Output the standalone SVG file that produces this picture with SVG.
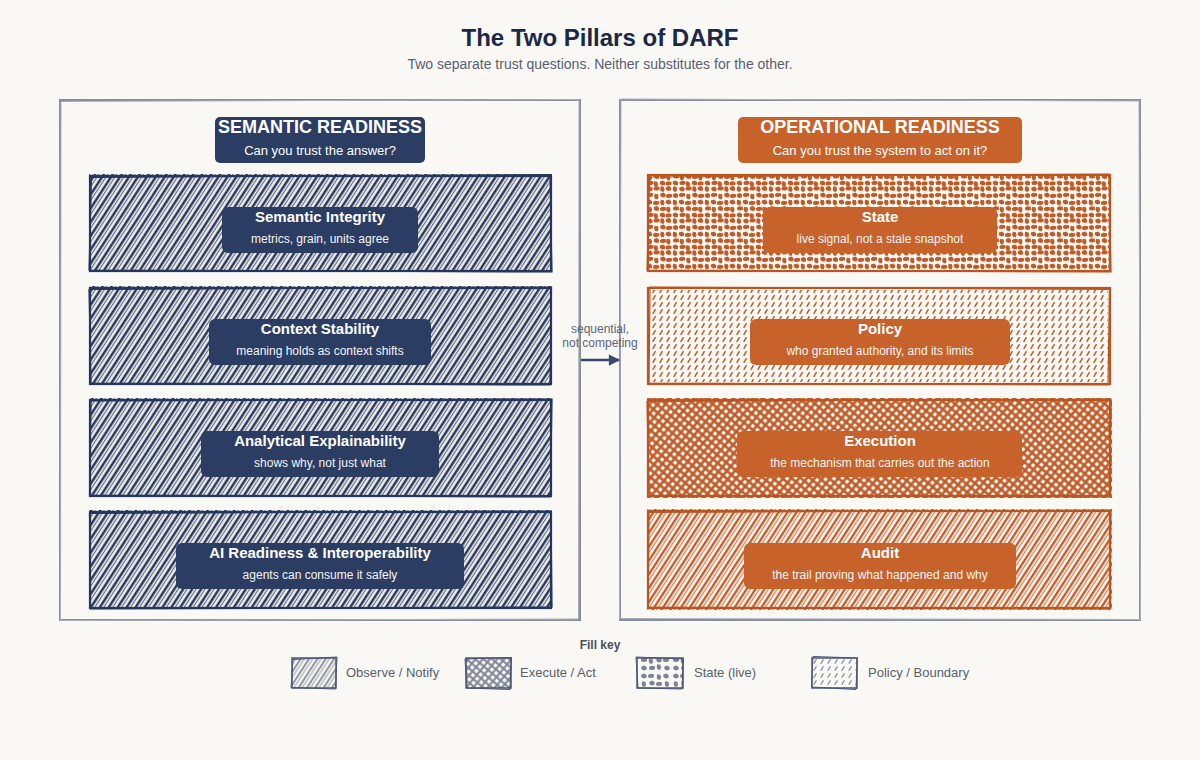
<svg xmlns="http://www.w3.org/2000/svg" width="1200" height="760" viewBox="0 0 1200 760">
<style>
.bg{fill:#f9f8f4}
.title{font:700 24px 'Liberation Sans',Arial,sans-serif;fill:#1c2848}
.subtitle{font:14px 'Liberation Sans',Arial,sans-serif;fill:#5a6070}
.panel{fill:none;stroke:#878d9b;stroke-width:2}
.panel2{fill:none;stroke:#a9aeb8;stroke-width:1}
.hdrT{font:700 18px 'Liberation Sans',Arial,sans-serif;fill:#fff}
.hdrS{font:13px 'Liberation Sans',Arial,sans-serif;fill:#fff}
.nt{font:700 15px 'Liberation Sans',Arial,sans-serif;fill:#fff}
.ns{font:12px 'Liberation Sans',Arial,sans-serif;fill:#f4f4f4}
.navy{fill:#2c3d63}
.orange{fill:#c8622b}
.eN{fill:none;stroke:#26365c;stroke-width:2.2}
.eN2{fill:none;stroke:#26365c;stroke-width:1.2}
.eO{fill:none;stroke:#bb5520;stroke-width:2.2}
.eO2{fill:none;stroke:#bb5520;stroke-width:1.2}
.mid{font:12px 'Liberation Sans',Arial,sans-serif;fill:#5d6577}
.keyT{font:700 12px 'Liberation Sans',Arial,sans-serif;fill:#4a4f5c}
.keyL{font:13px 'Liberation Sans',Arial,sans-serif;fill:#5a5f6c}
.sw{fill:none;stroke:#4a5576;stroke-width:1.5}
.sw2{fill:none;stroke:#4a5576;stroke-width:1}
</style>
<defs>
<path id="b1" d="M-2.6,-1.6 L0.5,-2.6 L2.7,-0.8 L2.3,2 L-0.4,2.6 L-2.7,1Z"/>
<path id="b2" d="M-3.1,-0.8 L-1,-2.2 L2.9,-1.7 L3.1,0.9 L0.6,2.1 L-2.5,1.7Z"/>
<path id="b3" d="M-1.8,-2.7 L1.4,-2.3 L2.1,0.4 L1,2.9 L-1.7,2.3 L-2.3,-0.3Z"/>
<pattern id="hN" width="7.5" height="7.5" patternUnits="userSpaceOnUse" patternTransform="rotate(33)">
<line x1="2" y1="-1" x2="2" y2="9" stroke="#26365c" stroke-width="2.6"/>
<line x1="5.3" y1="-1" x2="5.3" y2="9" stroke="#26365c" stroke-width="1.1" opacity="0.8"/>
</pattern>
<pattern id="hO" width="7.5" height="7.5" patternUnits="userSpaceOnUse" patternTransform="rotate(33)">
<line x1="2" y1="-1" x2="2" y2="9" stroke="#c25a25" stroke-width="2.4"/>
<line x1="5.3" y1="-1" x2="5.3" y2="9" stroke="#c25a25" stroke-width="1.1" opacity="0.8"/>
</pattern>
<pattern id="hG" width="7" height="7" patternUnits="userSpaceOnUse" patternTransform="rotate(33)">
<line x1="2" y1="-1" x2="2" y2="8" stroke="#858b9a" stroke-width="1.8"/>
<line x1="5" y1="-1" x2="5" y2="8" stroke="#858b9a" stroke-width="0.9"/>
</pattern>
<pattern id="xO" width="6" height="6" patternUnits="userSpaceOnUse" patternTransform="rotate(40)">
<line x1="1.5" y1="-1" x2="1.5" y2="7" stroke="#c25a25" stroke-width="2.6"/>
<line x1="-1" y1="1.5" x2="7" y2="1.5" stroke="#c25a25" stroke-width="2.6"/>
</pattern>
<pattern id="xG" width="5.5" height="5.5" patternUnits="userSpaceOnUse" patternTransform="rotate(40)">
<line x1="1.5" y1="-1" x2="1.5" y2="7" stroke="#7d8394" stroke-width="2"/>
<line x1="-1" y1="1.5" x2="7" y2="1.5" stroke="#7d8394" stroke-width="2"/>
</pattern>
<pattern id="bO" width="32" height="32" patternUnits="userSpaceOnUse">
<g fill="#c25a25">
<use href="#b1" x="3.5" y="3.5"/><use href="#b2" x="10" y="3"/><use href="#b3" x="16.5" y="4.5"/><use href="#b1" x="23" y="3"/><use href="#b2" x="29" y="4"/>
<use href="#b3" x="3" y="10.5"/><use href="#b1" x="9.5" y="10"/><use href="#b2" x="16" y="11"/><use href="#b3" x="22.5" y="10.5"/><use href="#b1" x="28.5" y="10"/>
<use href="#b2" x="4" y="16.5"/><use href="#b3" x="10" y="17.5"/><use href="#b1" x="16.5" y="16.5"/><use href="#b2" x="23" y="17"/><use href="#b3" x="28.5" y="17.5"/>
<use href="#b1" x="3.5" y="23"/><use href="#b2" x="10.5" y="23"/><use href="#b3" x="16" y="24"/><use href="#b1" x="22.5" y="23"/><use href="#b2" x="28.5" y="23.5"/>
<use href="#b3" x="3" y="29"/><use href="#b1" x="10" y="29"/><use href="#b2" x="16.5" y="28.5"/><use href="#b3" x="22.5" y="29"/><use href="#b1" x="28.5" y="28.5"/>
</g>
</pattern>
<pattern id="bG" width="32" height="32" patternUnits="userSpaceOnUse">
<g fill="#7d8394">
<use href="#b1" x="4" y="4"/><use href="#b2" x="11" y="4"/><use href="#b3" x="19" y="5"/><use href="#b1" x="26" y="4"/>
<use href="#b3" x="4" y="12"/><use href="#b1" x="12" y="11"/><use href="#b2" x="19" y="12"/><use href="#b3" x="27" y="12"/>
<use href="#b2" x="4" y="20"/><use href="#b3" x="11" y="21"/><use href="#b1" x="19" y="20"/><use href="#b2" x="26" y="20"/>
<use href="#b1" x="4" y="28"/><use href="#b2" x="12" y="28"/><use href="#b3" x="19" y="27"/><use href="#b1" x="27" y="28"/>
</g>
</pattern>
<pattern id="dO" width="7" height="7" patternUnits="userSpaceOnUse">
<line x1="2" y1="5.3" x2="4.2" y2="1.7" stroke="#c25a25" stroke-width="1.5" stroke-linecap="round"/>
</pattern>
<pattern id="dG" width="7" height="7" patternUnits="userSpaceOnUse">
<line x1="2" y1="5.3" x2="4.2" y2="1.7" stroke="#7d8394" stroke-width="1.2" stroke-linecap="round"/>
</pattern>
<marker id="ah" viewBox="0 0 10 10" refX="9" refY="5" markerWidth="5" markerHeight="4.5" orient="auto">
<path d="M0,0 L10,5 L0,10 z" fill="#3a4a6e"/>
</marker>
</defs>

<rect class="bg" x="0" y="0" width="1200" height="760"/>

<g id="title">
<text class="title" x="600" y="46" text-anchor="middle">The Two Pillars of DARF</text>
<text class="subtitle" x="600" y="69" text-anchor="middle">Two separate trust questions. Neither substitutes for the other.</text>
</g>

<g id="panel-semantic">
<rect class="panel" x="60" y="100" width="520" height="520"/>
<path class="panel2" d="M61,101.5 L579,99.5 L578.5,619 L60.5,620.5 Z"/>
</g>
<g id="panel-operational">
<rect class="panel" x="620" y="100" width="520" height="520"/>
<path class="panel2" d="M621,99 L1139,101 L1140.5,619.5 L619.5,618.5 Z"/>
</g>

<g id="header-semantic">
<rect class="navy" x="215" y="117" width="210" height="46" rx="5"/>
<text class="hdrT" x="320" y="133" text-anchor="middle">SEMANTIC READINESS</text>
<text class="hdrS" x="320" y="155" text-anchor="middle">Can you trust the answer?</text>
</g>
<g id="header-operational">
<rect class="orange" x="738" y="117" width="284" height="46" rx="5"/>
<text class="hdrT" x="880" y="133" text-anchor="middle">OPERATIONAL READINESS</text>
<text class="hdrS" x="880" y="155" text-anchor="middle">Can you trust the system to act on it?</text>
</g>

<g id="semantic-integrity">
<rect x="89" y="174" width="463" height="98" fill="url(#hN)"/>
<rect class="eN" x="90" y="176" width="461" height="95"/>
<path class="eN2" d="M91.5,177.5 L550,174.5 L552,272 L89,270 Z"/>
<rect class="navy" x="222" y="207" width="196" height="46" rx="6"/>
<text class="nt" x="320" y="222" text-anchor="middle">Semantic Integrity</text>
<text class="ns" x="320" y="243" text-anchor="middle">metrics, grain, units agree</text>
</g>

<g id="context-stability">
<rect x="89" y="286" width="463" height="99" fill="url(#hN)"/>
<rect class="eN" x="90" y="288" width="461" height="96"/>
<path class="eN2" d="M89,289.5 L551.5,287 L550,385 L91,383 Z"/>
<rect class="navy" x="209" y="319" width="222" height="46" rx="6"/>
<text class="nt" x="320" y="334" text-anchor="middle">Context Stability</text>
<text class="ns" x="320" y="355" text-anchor="middle">meaning holds as context shifts</text>
</g>

<g id="analytical-explainability">
<rect x="89" y="398" width="463" height="99" fill="url(#hN)"/>
<rect class="eN" x="90" y="400" width="461" height="96"/>
<path class="eN2" d="M91,401 L552,399 L550.5,497 L89.5,495 Z"/>
<rect class="navy" x="201" y="431" width="238" height="46" rx="6"/>
<text class="nt" x="320" y="446" text-anchor="middle">Analytical Explainability</text>
<text class="ns" x="320" y="467" text-anchor="middle">shows why, not just what</text>
</g>

<g id="ai-readiness">
<rect x="89" y="510" width="463" height="99" fill="url(#hN)"/>
<rect class="eN" x="90" y="512" width="461" height="96"/>
<path class="eN2" d="M89.5,513.5 L551,511 L552,607 L90.5,609 Z"/>
<rect class="navy" x="176" y="543" width="288" height="46" rx="6"/>
<text class="nt" x="320" y="558" text-anchor="middle">AI Readiness &amp; Interoperability</text>
<text class="ns" x="320" y="579" text-anchor="middle">agents can consume it safely</text>
</g>

<g id="state">
<rect x="648" y="176" width="462" height="95" fill="url(#bO)"/>
<rect class="eO" x="648" y="175" width="462" height="96"/>
<path class="eO2" d="M649.5,177 L1109,174 L1111,272 L647,270 Z"/>
<rect class="orange" x="763" y="207" width="234" height="46" rx="6"/>
<text class="nt" x="880" y="222" text-anchor="middle">State</text>
<text class="ns" x="880" y="243" text-anchor="middle">live signal, not a stale snapshot</text>
</g>

<g id="policy">
<rect x="650" y="290" width="458" height="92" fill="url(#dO)"/>
<rect class="eO" x="648" y="288" width="462" height="96"/>
<path class="eO2" d="M650,287 L1109.5,289.5 L1108,385 L649,383 Z"/>
<rect class="orange" x="750" y="319" width="260" height="46" rx="6"/>
<text class="nt" x="880" y="334" text-anchor="middle">Policy</text>
<text class="ns" x="880" y="355" text-anchor="middle">who granted authority, and its limits</text>
</g>

<g id="execution">
<rect x="647" y="398" width="465" height="100" fill="url(#xO)"/>
<rect class="eO" x="648" y="400" width="462" height="96"/>
<path class="eO2" d="M647,401.5 L1111,399 L1109.5,497 L649,495.5 Z"/>
<rect class="orange" x="737" y="431" width="285" height="46" rx="6"/>
<text class="nt" x="880" y="446" text-anchor="middle">Execution</text>
<text class="ns" x="880" y="467" text-anchor="middle">the mechanism that carries out the action</text>
</g>

<g id="audit">
<rect x="647" y="509" width="465" height="101" fill="url(#hO)"/>
<rect class="eO" x="648" y="511" width="462" height="97"/>
<path class="eO2" d="M649,512.5 L1111,510 L1109.5,609 L648,607 Z"/>
<rect class="orange" x="744" y="543" width="272" height="46" rx="6"/>
<text class="nt" x="880" y="558" text-anchor="middle">Audit</text>
<text class="ns" x="880" y="579" text-anchor="middle">the trail proving what happened and why</text>
</g>

<g id="connectors">
<text class="mid" x="600" y="333" text-anchor="middle">sequential,</text>
<text class="mid" x="600" y="347" text-anchor="middle">not competing</text>
<line x1="581" y1="360" x2="619" y2="360" stroke="#3a4a6e" stroke-width="2.5" marker-end="url(#ah)"/>
</g>

<g id="fill-key">
<text class="keyT" x="600" y="649" text-anchor="middle">Fill key</text>
<rect x="292" y="658" width="44" height="30" fill="url(#hG)"/>
<rect class="sw" x="292" y="658" width="44" height="30"/>
<path class="sw2" d="M293,659.5 L337,657 L335.5,689 L291,687.5 Z"/>
<text class="keyL" x="346" y="677">Observe / Notify</text>
<rect x="466" y="658" width="45" height="30" fill="url(#xG)"/>
<rect class="sw" x="466" y="658" width="45" height="30"/>
<path class="sw2" d="M465,659 L511.5,657.5 L510,689.5 L467,688 Z"/>
<text class="keyL" x="520" y="677">Execute / Act</text>
<rect x="637" y="658" width="46" height="30" fill="url(#bG)"/>
<rect class="sw" x="637" y="658" width="46" height="30"/>
<path class="sw2" d="M636,657 L683.5,659 L682,689 L638,688 Z"/>
<text class="keyL" x="694" y="677">State (live)</text>
<rect x="812" y="658" width="45" height="30" fill="url(#dG)"/>
<rect class="sw" x="812" y="658" width="45" height="30"/>
<path class="sw2" d="M813,656.5 L857.5,658 L856,689.5 L811.5,687 Z"/>
<text class="keyL" x="868" y="677">Policy / Boundary</text>
</g>
</svg>
